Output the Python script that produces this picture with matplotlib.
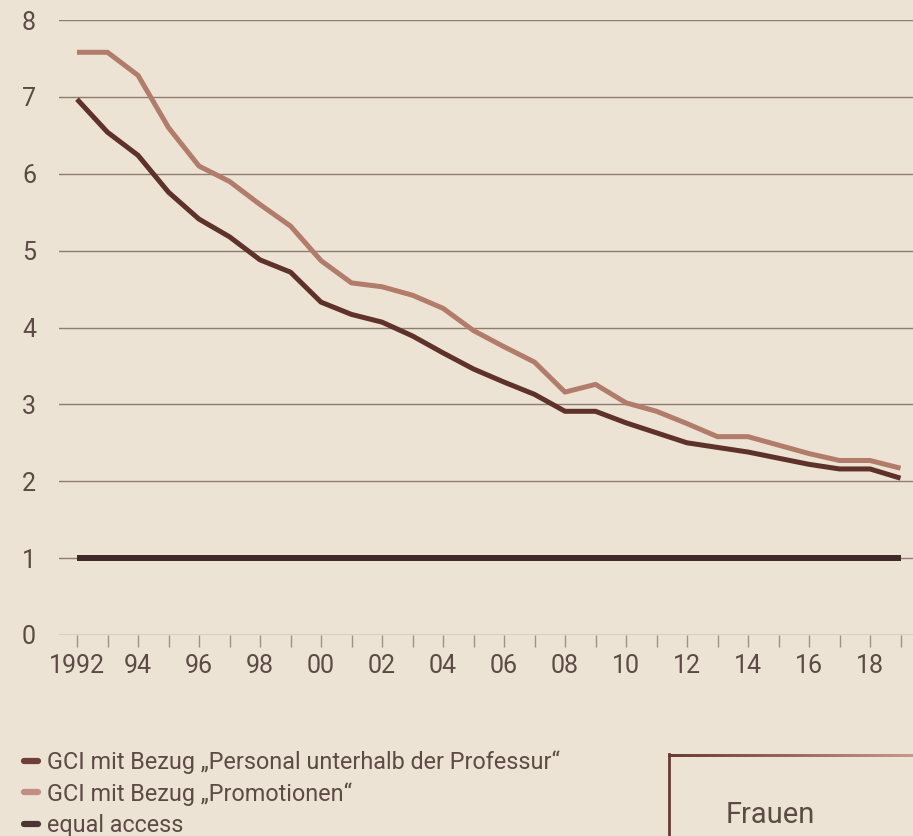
import matplotlib
matplotlib.use("Agg")
import matplotlib.pyplot as plt
import numpy as np
from matplotlib.lines import Line2D

plt.rcParams['font.family'] = ['Roboto', 'DejaVu Sans']

years = list(range(1992, 2020))
personal = [6.97, 6.54, 6.24, 5.76, 5.41, 5.18, 4.88, 4.72, 4.33, 4.17, 4.07, 3.89,
            3.67, 3.46, 3.29, 3.13, 2.91, 2.91, 2.76, 2.63, 2.50, 2.44, 2.38, 2.30,
            2.22, 2.16, 2.16, 2.04]
promotionen = [7.58, 7.58, 7.28, 6.60, 6.10, 5.90, 5.60, 5.32, 4.87, 4.58, 4.53, 4.42,
               4.25, 3.96, 3.75, 3.55, 3.16, 3.26, 3.02, 2.91, 2.75, 2.58, 2.58, 2.47,
               2.36, 2.27, 2.27, 2.17]
equal_access = [1.0] * len(years)
labels = ['GCI mit Bezug \u201ePersonal unterhalb der Professur\u201c',
          'GCI mit Bezug \u201ePromotionen\u201c',
          'equal access']
xtick_labels = ['1992', '94', '96', '98', '00', '02', '04', '06', '08', '10', '12', '14', '16', '18']
box_title = 'Frauen'

BG = '#ece3d4'
DARK = '#5e3129'
LIGHT = '#b27c6b'
EQ = '#3f2a28'
GRID = '#8c7c72'
TXT = '#5c4b45'

W, H = 913, 836
fig = plt.figure(figsize=(W / 100, H / 100), dpi=100, facecolor=BG)
ax = fig.add_axes([59 / W, (H - 635) / H, 1 - 59 / W, (635 - 20) / H])
ax.set_facecolor(BG)

l3, = ax.plot(years, equal_access, color=EQ, lw=4.3, solid_capstyle='butt', zorder=3)
l2, = ax.plot(years, promotionen, color=LIGHT, lw=3.6, solid_capstyle='butt', zorder=3)
l1, = ax.plot(years, personal, color=DARK, lw=3.6, solid_capstyle='butt', zorder=4)

ax.set_ylim(0, 8)
ax.set_xlim(1992 - 18 / 30.5, 1992 + (913 - 77) / 30.5)
for y in range(0, 9):
    ax.axhline(y, color=GRID, lw=1.0, zorder=1)
for s in ax.spines.values():
    s.set_visible(False)

ax.set_yticks(range(0, 9))
ax.set_yticklabels([str(v) for v in range(0, 9)])
ax.tick_params(axis='y', length=0, pad=16.5, labelsize=18, labelcolor=TXT)

ax.set_xticks(years)
ax.set_xticklabels([xtick_labels[i // 2] if i % 2 == 0 else '' for i in range(len(years))])
ax.tick_params(axis='x', length=8.5, width=1, color='#a09088', pad=5, labelsize=18, labelcolor=TXT)

# legend
handles = [Line2D([], [], color=c, lw=4.5, solid_capstyle='round') for c in ['#6e3f37', '#c08e82', '#4a3533']]
leg = fig.legend(handles, labels, loc='upper left', bbox_to_anchor=(24 / W, 1 - 750 / H),
                 frameon=False, fontsize=16.8, handlelength=0.62, handletextpad=0.38,
                 labelspacing=0.35, borderpad=0, borderaxespad=0)
for t in leg.get_texts():
    t.set_color(TXT)

# box (partially visible)
x0, y0 = 668 / W, 1 - 755 / H
gax = fig.add_axes([x0, y0 - 1.5 / H, 1 - x0, 3 / H])
gax.axis('off')
c0 = np.array(matplotlib.colors.to_rgb('#6b3a32'))
c1 = np.array(matplotlib.colors.to_rgb('#c9978a'))
t = np.linspace(0, 1, 256)[None, :, None]
grad = c0[None, None, :] + (c1 - c0)[None, None, :] * t
gax.imshow(grad, aspect='auto', extent=[0, 1, 0, 1], interpolation='bilinear')
fig.add_artist(Line2D([x0 + 1 / W, x0 + 1 / W], [y0 + 1 / H, 0], color='#6b3a32', lw=2.0,
                      transform=fig.transFigure))
fig.text(726 / W, 1 - 823 / H, box_title, fontsize=21, color=TXT,
         ha='left', va='baseline')

fig.savefig('out.png', dpi=100, facecolor=BG)
